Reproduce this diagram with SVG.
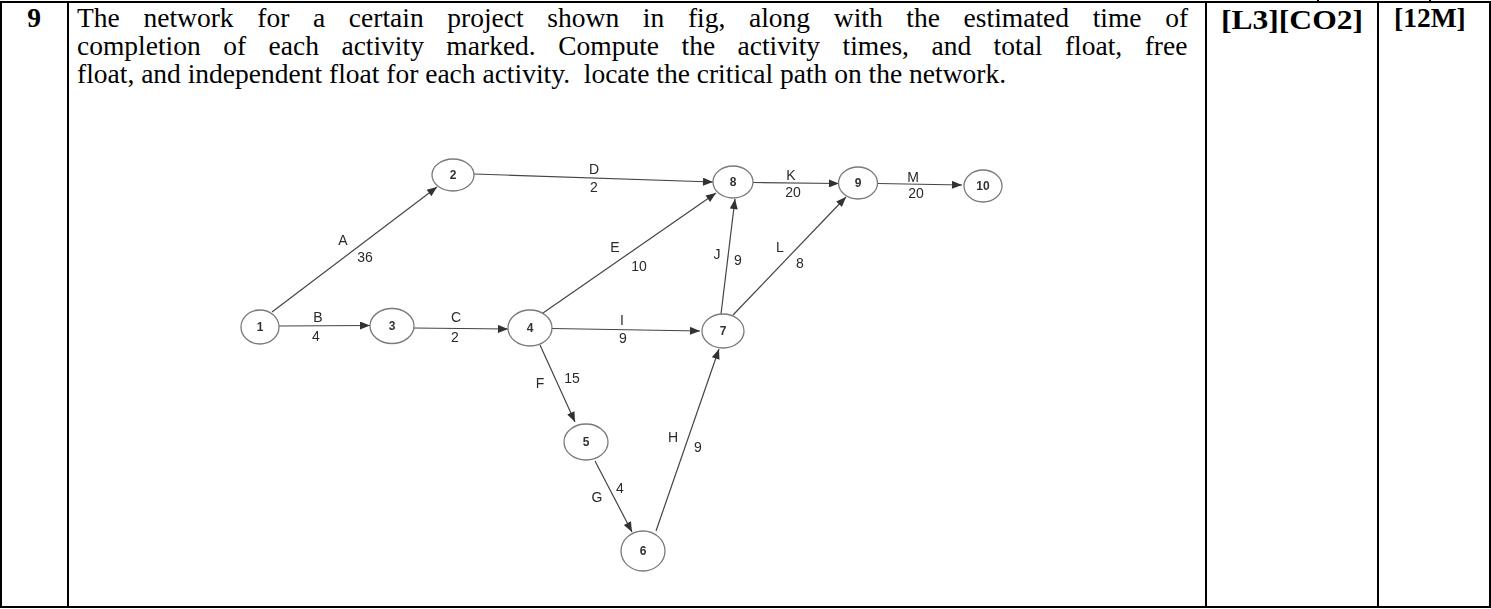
<svg xmlns="http://www.w3.org/2000/svg" width="1491" height="609" viewBox="0 0 1491 609">
  <defs>
    <style>
      .rule { stroke: #000; stroke-width: 2; fill: none; }
      .q { font-family: "Liberation Serif", "Times New Roman", serif; font-size: 27.5px; fill: #000; }
      .qb { font-family: "Liberation Serif", "Times New Roman", serif; font-size: 27.5px; font-weight: bold; fill: #000; }
      .node ellipse { fill: #fff; stroke: #7a7a7a; stroke-width: 1.3; }
      .node text { font-family: "Liberation Sans", Arial, sans-serif; font-size: 12px; font-weight: bold; fill: #333; text-anchor: middle; dominant-baseline: central; }
      .edge { stroke: #444; stroke-width: 1.2; fill: none; marker-end: url(#arrow); }
      .lbl { font-family: "Liberation Sans", Arial, sans-serif; font-size: 14px; fill: #2a2a2a; text-anchor: middle; dominant-baseline: central; }
    </style>
    <marker id="arrow" viewBox="0 0 10 8" refX="10" refY="4" markerWidth="11" markerHeight="8" markerUnits="userSpaceOnUse" orient="auto">
      <path d="M0,0 L10,4 L0,8 Z" fill="#333"/>
    </marker>
    <filter id="soft" x="-5%" y="-5%" width="110%" height="110%">
      <feGaussianBlur stdDeviation="0.45"/>
    </filter>
  </defs>

  <rect width="1491" height="609" fill="#fff"/>

  <!-- table frame -->
  <g id="table">
    <rect class="rule" x="1" y="2" width="1489" height="605"/>
    <line class="rule" x1="68" y1="2" x2="68" y2="607"/>
    <line class="rule" x1="1206" y1="2" x2="1206" y2="607"/>
    <line class="rule" x1="1378" y1="2" x2="1378" y2="607"/>
    <line class="rule" x1="1318" y1="0" x2="1318" y2="2"/>
    <line class="rule" x1="1430" y1="0" x2="1430" y2="2"/>
  </g>

  <!-- question row text -->
  <g id="question">
    <text class="qb" x="34" y="27" text-anchor="middle">9</text>
    <text class="q" x="77" y="27" word-spacing="16.8">The network for a certain project shown in fig, along with the estimated time of</text>
    <text class="q" x="77" y="55" word-spacing="15.6">completion of each activity marked. Compute the activity times, and total float, free</text>
    <text class="q" x="77" y="83" xml:space="preserve">float, and independent float for each activity.  locate the critical path on the network.</text>
    <text class="qb" x="1221" y="29" textLength="142" lengthAdjust="spacingAndGlyphs">[L3][CO2]</text>
    <text class="qb" x="1394" y="27">[12M]</text>
  </g>

  <!-- activity network -->
  <g id="network" filter="url(#soft)">
    <g id="connectors">
      <line class="edge" x1="272" y1="312" x2="437" y2="187"/>
      <line class="edge" x1="279" y1="326" x2="370" y2="325.5"/>
      <line class="edge" x1="413" y1="328" x2="508" y2="329"/>
      <line class="edge" x1="474" y1="174" x2="713" y2="182"/>
      <line class="edge" x1="543" y1="313" x2="716" y2="193"/>
      <line class="edge" x1="552" y1="328.5" x2="700" y2="331"/>
      <line class="edge" x1="540" y1="345" x2="575" y2="422"/>
      <line class="edge" x1="595" y1="461" x2="632" y2="532"/>
      <line class="edge" x1="656" y1="531" x2="719" y2="349"/>
      <line class="edge" x1="721" y1="314" x2="735" y2="199"/>
      <line class="edge" x1="733" y1="315" x2="846" y2="197"/>
      <line class="edge" x1="753" y1="182.5" x2="839" y2="183.5"/>
      <line class="edge" x1="878" y1="183.5" x2="962" y2="185"/>

      <text class="lbl" x="343" y="240">A</text><text class="lbl" x="365" y="257">36</text>
      <text class="lbl" x="318" y="317">B</text><text class="lbl" x="316" y="336">4</text>
      <text class="lbl" x="456" y="317">C</text><text class="lbl" x="455" y="337">2</text>
      <text class="lbl" x="594" y="169">D</text><text class="lbl" x="594" y="187">2</text>
      <text class="lbl" x="615" y="247">E</text><text class="lbl" x="639" y="266">10</text>
      <text class="lbl" x="622" y="320">I</text><text class="lbl" x="623" y="338">9</text>
      <text class="lbl" x="540" y="383">F</text><text class="lbl" x="572" y="378">15</text>
      <text class="lbl" x="597" y="497">G</text><text class="lbl" x="620" y="488">4</text>
      <text class="lbl" x="673" y="437">H</text><text class="lbl" x="698" y="447">9</text>
      <text class="lbl" x="717" y="254">J</text><text class="lbl" x="738" y="260">9</text>
      <text class="lbl" x="780" y="247">L</text><text class="lbl" x="800" y="263">8</text>
      <text class="lbl" x="791" y="175">K</text><text class="lbl" x="793" y="192">20</text>
      <text class="lbl" x="913" y="177">M</text><text class="lbl" x="916" y="193">20</text>
    </g>

    <g id="n1" class="node"><ellipse cx="260" cy="327" rx="19" ry="17"/><text x="260" y="327">1</text></g>
    <g id="n2" class="node"><ellipse cx="453" cy="175" rx="21" ry="16"/><text x="453" y="175">2</text></g>
    <g id="n3" class="node"><ellipse cx="392" cy="326" rx="22" ry="17.5"/><text x="392" y="326">3</text></g>
    <g id="n4" class="node"><ellipse cx="530" cy="328" rx="22" ry="18"/><text x="530" y="328">4</text></g>
    <g id="n5" class="node"><ellipse cx="586" cy="442" rx="22" ry="18"/><text x="586" y="442">5</text></g>
    <g id="n6" class="node"><ellipse cx="643" cy="551" rx="22" ry="20"/><text x="643" y="551">6</text></g>
    <g id="n7" class="node"><ellipse cx="723" cy="331" rx="21" ry="17"/><text x="723" y="331">7</text></g>
    <g id="n8" class="node"><ellipse cx="733" cy="182" rx="20" ry="16"/><text x="733" y="182">8</text></g>
    <g id="n9" class="node"><ellipse cx="858" cy="183" rx="19.5" ry="16"/><text x="858" y="183">9</text></g>
    <g id="n10" class="node"><ellipse cx="983" cy="186" rx="19" ry="16"/><text x="983" y="186">10</text></g>
  </g>
</svg>
